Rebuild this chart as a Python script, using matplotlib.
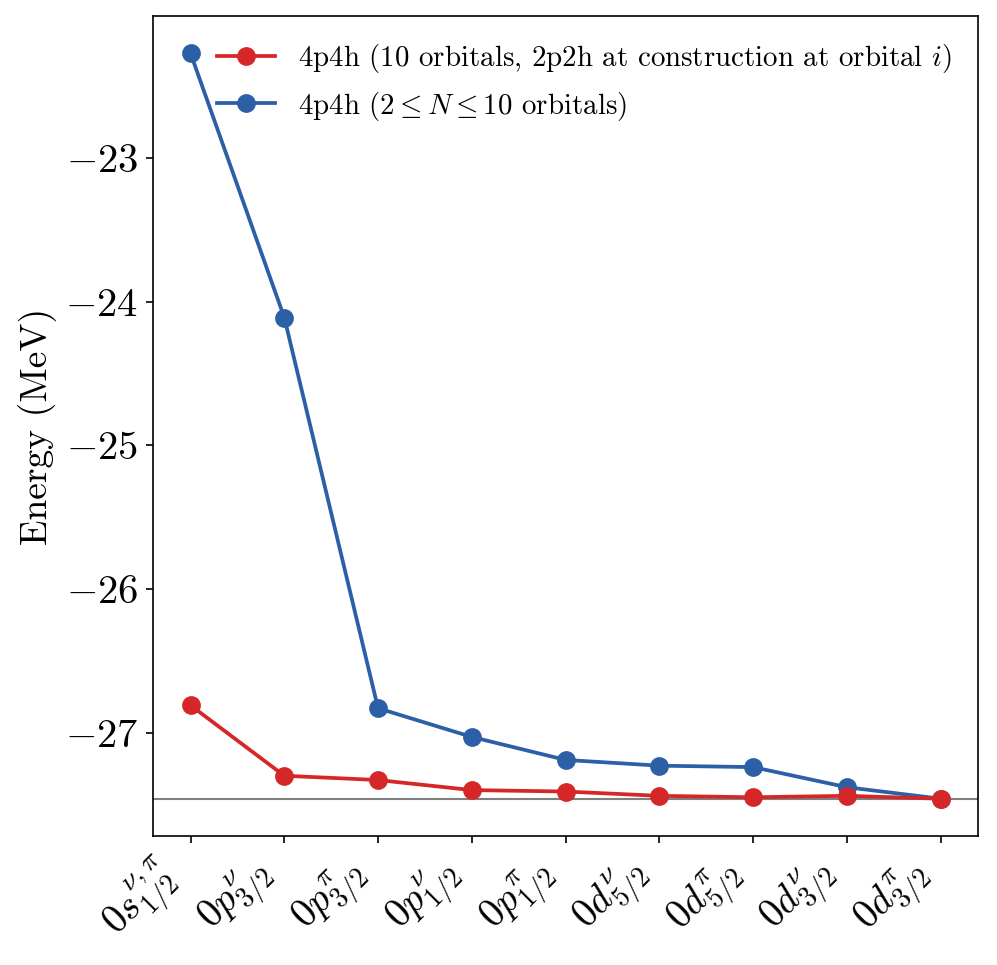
import matplotlib
matplotlib.use("Agg")
import matplotlib.pyplot as plt

plt.rcParams['mathtext.fontset'] = 'cm'
plt.rcParams['font.family'] = 'serif'
plt.rcParams['font.serif'] = ['cmr10', 'DejaVu Serif']
plt.rcParams['axes.formatter.use_mathtext'] = True
plt.rcParams['axes.unicode_minus'] = True

orbitals = [r'$0s^{\nu,\pi}_{1/2}$', r'$0p^{\nu}_{3/2}$', r'$0p^{\pi}_{3/2}$',
            r'$0p^{\nu}_{1/2}$', r'$0p^{\pi}_{1/2}$', r'$0d^{\nu}_{5/2}$',
            r'$0d^{\pi}_{5/2}$', r'$0d^{\nu}_{3/2}$', r'$0d^{\pi}_{3/2}$']
red_vals = [-26.81, -27.30, -27.33, -27.40, -27.41, -27.44, -27.45, -27.44, -27.46]
blue_vals = [-22.27, -24.11, -26.83, -27.03, -27.19, -27.23, -27.24, -27.38, -27.46]
ref_energy = -27.46
red_label = r'4p4h (10 orbitals, 2p2h at construction at orbital $i$)'
blue_label = r'4p4h ($2 \leq N \leq 10$ orbitals)'

fig = plt.figure(figsize=(997/150, 965/150), dpi=150)
ax = fig.add_axes([0.1535, 0.1337, 0.981-0.1535, 0.9834-0.1337])

x = list(range(len(orbitals)))
ax.axhline(ref_energy, color='gray', lw=1.0, zorder=1)
ax.plot(x, red_vals, '-o', color='#d62728', lw=1.8, ms=8, label=red_label, zorder=3)
ax.plot(x, blue_vals, '-o', color='#2b5fa6', lw=1.8, ms=8, label=blue_label, zorder=2)

ax.set_xticks(x)
ax.set_xticklabels(orbitals, rotation=45, ha='right', fontsize=19)
ax.set_yticks([-23, -24, -25, -26, -27])
ax.tick_params(axis='y', labelsize=19.5)
ax.set_ylabel('Energy (MeV)', fontsize=18)
ax.legend(loc='upper right', frameon=False, fontsize=13.9)

fig.savefig('out.png', dpi=150)
